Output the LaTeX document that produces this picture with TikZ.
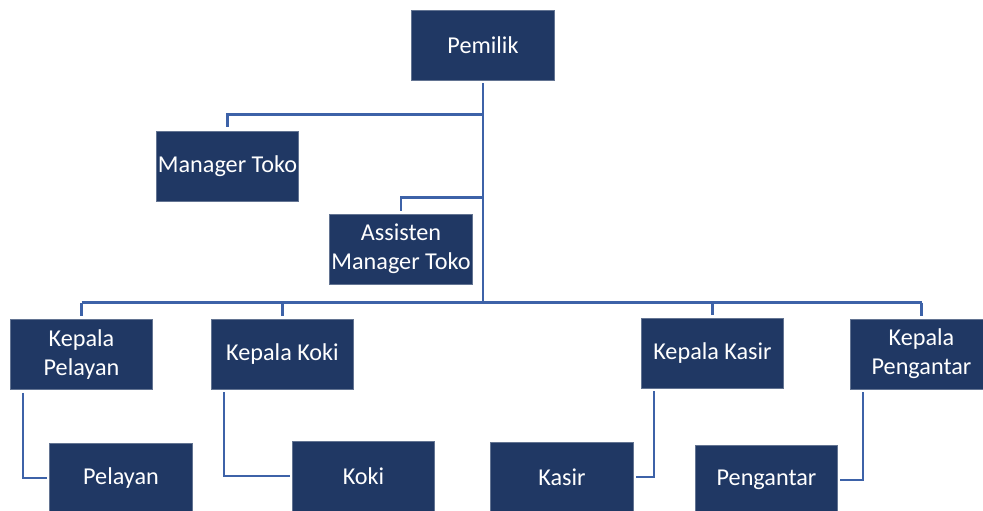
\documentclass[tikz,border=0pt]{standalone}
\usepackage{fontspec}
\setmainfont{Carlito}
\usepackage{tikz}
\usetikzlibrary{positioning}

\definecolor{boxblue}{HTML}{203864}
\definecolor{lineblue}{HTML}{3D62A8}

\begin{document}
\begin{tikzpicture}[x=1pt, y=-1pt,
		unit/.style={draw=boxblue!70!white, line width=0.6pt, fill=boxblue, text=white,
			minimum width=142.5pt, minimum height=70pt, inner sep=0pt, align=center,
			font=\fontsize{24.2}{29}\selectfont},
		link/.style={draw=lineblue, line width=2.5pt}]
			\useasboundingbox (0,0) rectangle (983,511);

			% Top level
			\node[unit] (pemilik) at (483,45) {Pemilik};
			\node[unit] (manager) at (227.5,166.5) {Manager Toko};
			\node[unit] (asisten) at (401,249) {Assisten\\Manager Toko};

			% Heads of section
			\node[unit] (kpelayan) at (81.5,354.5) {Kepala\\Pelayan};
			\node[unit] (kkoki) at (282.5,354) {Kepala Koki};
			\node[unit] (kkasir) at (712.5,353) {Kepala Kasir};
			\node[unit] (kpengantar) at (921.5,354) {Kepala\\Pengantar};

			% Staff
			\node[unit] (pelayan) at (121,478) {Pelayan};
			\node[unit] (koki) at (363.5,476) {Koki};
			\node[unit] (kasir) at (562,477) {Kasir};
			\node[unit] (pengantar) at (766.5,480) {Pengantar};

			% Main line and bus
			\coordinate (busL) at (81.5,302.7);
			\coordinate (busR) at (921.5,302.7);
			\coordinate (forkM) at (483,114.3);
			\coordinate (forkA) at (483,197.7);
			\draw[link] ([yshift=-3pt]pemilik.south) -- (pemilik.south |- busL);
			\draw[link] (busL) -- (busR);
			\draw[link] (forkM) -| ([yshift=4pt]manager.north);
			\draw[link] (forkA) -| ([yshift=3pt]asisten.north);
			\foreach \n in {kpelayan, kkoki, kkasir, kpengantar}
				\draw[link] (busL -| \n.north) -- ([yshift=3pt]\n.north);

			% Head to staff
			\draw[link] ([xshift=13pt,yshift=-3pt]kpelayan.south west) |- ([xshift=-2pt]pelayan.west);
			\draw[link] ([xshift=13pt,yshift=-3pt]kkoki.south west) |- ([xshift=-2pt]koki.west);
			\draw[link] ([xshift=13pt,yshift=-3pt]kkasir.south west) |- ([xshift=2pt]kasir.east);
			\draw[link] ([xshift=13pt,yshift=-3pt]kpengantar.south west) |- ([xshift=2pt]pengantar.east);
		\end{tikzpicture}
\end{document}
